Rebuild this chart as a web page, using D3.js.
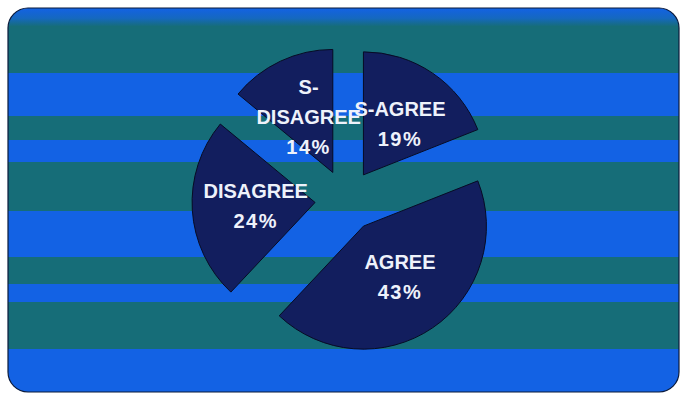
<!DOCTYPE html>
<html>
<head>
<meta charset="utf-8">
<script src="https://cdn.jsdelivr.net/npm/d3@7"></script>
<style>
  html, body { margin: 0; padding: 0; background: #ffffff; }
  svg { display: block; }
</style>
</head>
<body>
<script>
// Survey answers, clockwise from 12 o'clock
const categories = ["S-AGREE", "AGREE", "DISAGREE", "S-DISAGREE"];
const percentages = [19, 43, 24, 14];
const labelLines = [["S-AGREE"], ["AGREE"], ["DISAGREE"], ["S-", "DISAGREE"]];

const width = 681, height = 394;
const svg = d3.select("body").append("svg")
  .attr("width", width).attr("height", height);

const defs = svg.append("defs");

// Panel: rounded card with horizontal teal / blue banding
const panel = { x: 8, y: 8, w: 671, h: 384, r: 20 };
const BLUE = "#1362e4", TEAL = "#166d78";

defs.append("clipPath").attr("id", "card")
  .append("rect")
  .attr("x", panel.x).attr("y", panel.y)
  .attr("width", panel.w).attr("height", panel.h)
  .attr("rx", panel.r).attr("ry", panel.r);

const topFade = defs.append("linearGradient").attr("id", "topFade")
  .attr("x1", 0).attr("y1", 0).attr("x2", 0).attr("y2", 1);
topFade.append("stop").attr("offset", "0%").attr("stop-color", BLUE);
topFade.append("stop").attr("offset", "55%").attr("stop-color", "#1568c0");
topFade.append("stop").attr("offset", "100%").attr("stop-color", TEAL);

// band edges down the card (alternating blue / teal)
const bandEdges = [8, 26, 73, 116, 140, 162, 211, 257, 284, 302, 349, 392];
const bands = d3.pairs(bandEdges).map(([y0, y1], i) => ({ y0, y1, i }));

const card = svg.append("g").attr("clip-path", "url(#card)");
card.selectAll("rect.band")
  .data(bands)
  .join("rect")
  .attr("class", "band")
  .attr("x", panel.x).attr("width", panel.w)
  .attr("y", d => d.y0).attr("height", d => d.y1 - d.y0 + 0.5)
  .attr("fill", d => d.i === 0 ? "url(#topFade)" : (d.i % 2 === 1 ? TEAL : BLUE));

// thin dark rim around the card
svg.append("rect")
  .attr("x", panel.x).attr("y", panel.y)
  .attr("width", panel.w).attr("height", panel.h)
  .attr("rx", panel.r).attr("ry", panel.r)
  .attr("fill", "none")
  .attr("stroke", "#0b1a3a").attr("stroke-width", 1.2);

// Exploded pie
const cx = 346, cy = 200.5, radius = 123, explode = 31;

const pie = d3.pie().sort(null).value(d => d.value).startAngle(0);
const arcs = pie(categories.map((c, i) => ({ name: c, value: percentages[i], lines: labelLines[i] })));
const arc = d3.arc().innerRadius(0).outerRadius(radius);

const offsetOf = d => {
  const a = (d.startAngle + d.endAngle) / 2;
  return [Math.sin(a) * explode, -Math.cos(a) * explode];
};

const slices = svg.append("g")
  .attr("transform", `translate(${cx},${cy})`)
  .selectAll("g.slice")
  .data(arcs)
  .join("g")
  .attr("class", "slice")
  .attr("transform", d => `translate(${offsetOf(d)})`);

slices.append("path")
  .attr("d", arc)
  .attr("fill", "#121e5e")
  .attr("stroke", "#070b24")
  .attr("stroke-width", 1);

// Labels: category name then percentage, stacked around the slice centroid
const lineHeight = 30;
const labels = svg.append("g")
  .attr("transform", `translate(${cx},${cy})`)
  .selectAll("text")
  .data(arcs)
  .join("text")
  .attr("transform", d => {
    const [ox, oy] = offsetOf(d);
    const [lx, ly] = arc.centroid(d);
    return `translate(${lx + ox + 2},${ly + oy})`;
  })
  .attr("text-anchor", "middle")
  .attr("font-family", "'Liberation Sans', Arial, sans-serif")
  .attr("font-weight", "bold")
  .attr("font-size", 20)
  .attr("fill", "#eef2fb");

labels.each(function (d) {
  const lines = d.data.lines.concat([d.data.value + "%"]);
  const n = lines.length;
  d3.select(this).selectAll("tspan")
    .data(lines)
    .join("tspan")
    .attr("x", 0)
    .attr("y", (l, i) => (i - (n - 1) / 2) * lineHeight)
    .attr("dy", "0.35em")
    .attr("letter-spacing", (l, i) => i === n - 1 ? 1.5 : 0)
    .text(l => l);
});
</script>
</body>
</html>
